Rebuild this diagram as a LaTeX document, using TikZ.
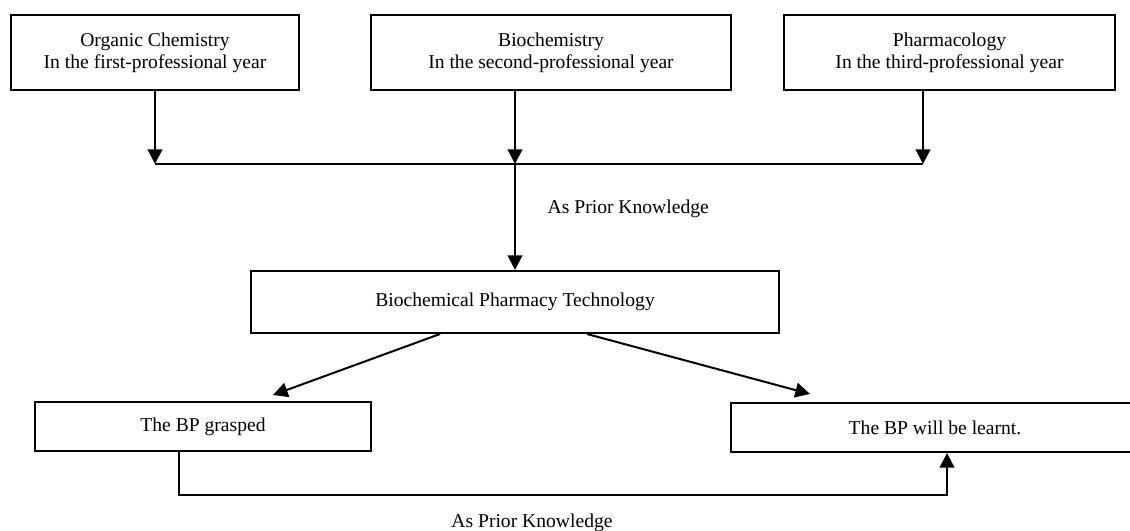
\documentclass[tikz,border=0pt]{standalone}
\usepackage{fontspec}
\setmainfont{Liberation Serif}
\usetikzlibrary{arrows.meta}

\tikzset{
  course/.style={draw, line width=1.5pt, align=center, minimum height=56pt,
    inner sep=2pt, font=\fontsize{14.7}{16.5}\selectfont},
  stage/.style={draw, line width=1.5pt, align=center,
    inner sep=2pt, font=\fontsize{14.7}{16.5}\selectfont},
  link/.style={line width=1.5pt},
  arr/.style={line width=1.5pt, -{Triangle[length=11pt,width=11pt]}},
  note/.style={font=\fontsize{14.7}{16.5}\selectfont}
}

\begin{document}
\begin{tikzpicture}[x=0.75pt,y=0.75pt,yscale=-1,xscale=1]
      \useasboundingbox (0,0) rectangle (1130,531);
      % courses taken before
      \node[course, minimum width=216pt] (organic) at (155,52.5)
            {Organic Chemistry\\In the first-professional year};
      \node[course, minimum width=270pt] (biochem) at (551,52.5)
            {Biochemistry\\In the second-professional year};
      \node[course, minimum width=248pt] (pharma) at (949.5,52.5)
            {Pharmacology\\In the third-professional year};
      % joining line
      \coordinate (j1) at (155,164);
      \coordinate (j2) at (515,164);
      \coordinate (j3) at (923,164);
      \draw[arr] (organic.south -| j1) -- (j1);
      \draw[arr] (biochem.south -| j2) -- (j2);
      \draw[arr] (pharma.south -| j3) -- (j3);
      \draw[link] (j1) -- (j3);
      % the course itself
      \node[stage, minimum width=396pt, minimum height=46.5pt] (bpt) at (515,302)
            {Biochemical Pharmacy Technology};
      \draw[arr] (j2) -- (bpt.north -| j2);
      \node[note, anchor=west] (prior1) at (543,209) {As Prior Knowledge};
      % outcomes
      \node[stage, minimum width=252pt, minimum height=36.75pt] (grasp) at (203,426.5)
            {The BP grasped};
      \node[stage, minimum width=306pt, minimum height=36.75pt] (learnt) at (935,427.5)
            {The BP will be learnt.};
      \coordinate (dl) at (440,333);
      \coordinate (tl) at (273,395);
      \coordinate (dr) at (587,333);
      \coordinate (tr) at (810,394);
      \draw[arr] (bpt.south -| dl) -- (tl);
      \draw[arr] (bpt.south -| dr) -- (tr);
      \coordinate (b1) at (179,495);
      \coordinate (b2) at (947,495);
      \draw[arr] (grasp.south -| b1) -- (b1) -- (b2) -- (learnt.south -| b2);
      \node[note] (prior2) at (532,523) {As Prior Knowledge};
\end{tikzpicture}
\end{document}
